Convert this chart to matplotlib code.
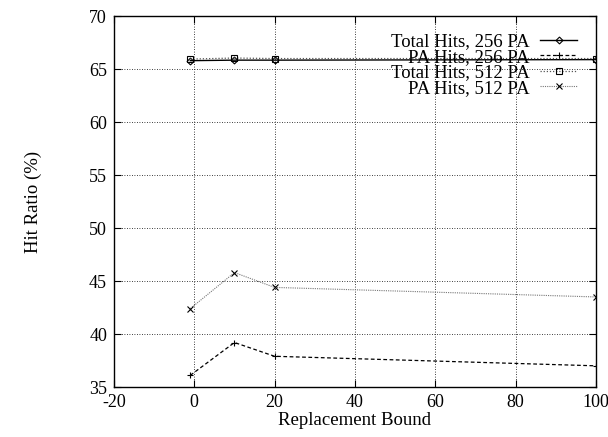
import matplotlib.pyplot as plt

bounds = [-1, 10, 20, 100]
total_256 = [65.8, 65.85, 65.85, 65.9]
pa_256 = [36.1, 39.2, 37.9, 37.0]
total_512 = [65.95, 66.05, 66.0, 66.0]
pa_512 = [42.4, 45.8, 44.4, 43.5]

plt.rcParams['font.family'] = ['Liberation Serif', 'DejaVu Serif']
plt.rcParams['axes.unicode_minus'] = False

fig = plt.figure(figsize=(6.08, 4.37), dpi=100)
ax = fig.add_axes([0.1875, 0.1144, 0.7925, 0.8486])

ax.plot(bounds, total_256, color='black', linestyle='-', lw=1.0,
        marker='D', ms=3.5, mfc='none', mew=0.8, label='Total Hits, 256 PA')
ax.plot(bounds, pa_256, color='black', linestyle=(0, (3, 2)), lw=0.9,
        marker='+', ms=5, mew=0.8, label='PA Hits, 256 PA')
ax.plot(bounds, total_512, color='#555555', linestyle=(0, (1, 1.5)), lw=0.9,
        marker='s', ms=4.5, mfc='none', mew=0.8, mec='black', label='Total Hits, 512 PA')
ax.plot(bounds, pa_512, color='#777777', linestyle=(0, (1, 1)), lw=0.8,
        marker='x', ms=4.5, mew=0.8, mec='black', label='PA Hits, 512 PA')

ax.set_xlim(-20, 100)
ax.set_ylim(35, 70)
ax.set_xticks(range(-20, 101, 20))
ax.set_yticks(range(35, 71, 5))
ax.tick_params(direction='in', top=True, right=True, labelsize=13, length=5, pad=5)
ax.grid(True, color='black', linestyle=(0, (1, 2)), lw=0.6)
for s in ax.spines.values():
    s.set_linewidth(1.0)

ax.set_xlabel('Replacement Bound', fontsize=13.5, labelpad=1)
ax.set_ylabel('Hit Ratio (%)', fontsize=13.5, labelpad=34)

leg = ax.legend(loc='upper right', markerfirst=False, frameon=False, fontsize=13.5,
                handlelength=2.0, labelspacing=-0.08, borderaxespad=0.3,
                handletextpad=0.55, borderpad=0.3, bbox_to_anchor=(0.985, 0.985))
for t in leg.get_texts():
    t.set_ha('right')

fig.savefig('out.png', dpi=100)
